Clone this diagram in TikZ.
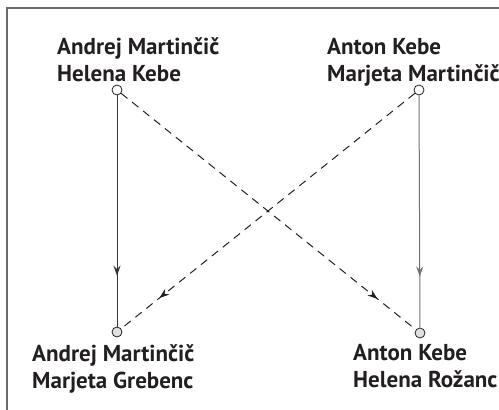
\documentclass[tikz,border=0pt]{standalone}
\usepackage{fontspec}
\setmainfont{PT Sans}
\usetikzlibrary{arrows.meta,decorations.markings}
\definecolor{frame}{HTML}{6A6A6A}
\definecolor{ink}{HTML}{231F20}
\tikzset{
  person/.style={circle,draw=ink,line width=0.8pt,minimum size=10pt,inner sep=0pt},
  nametext/.style={anchor=base west,inner sep=0pt,text=ink,font=\bfseries\fontsize{23}{27}\selectfont,align=left},
  midarrow/.style={postaction={decorate},decoration={markings,mark=at position #1 with {\arrow{Stealth[length=10pt,width=7pt]}}}},
  solidlink/.style={line width=1pt},
  dashlink/.style={line width=1pt,draw=ink,dash pattern=on 8pt off 6pt},
}
\begin{document}
\begin{tikzpicture}[x=1pt,y=-1pt]
\useasboundingbox (0,0) rectangle (499,410);
\draw[frame,line width=1.2pt] (7,410) -- (7,8) -- (499,8);
\node[person,fill=white] (tl) at (117,90) {};
\node[person,fill=white] (tr) at (419,90) {};
\node[person,fill=black!12] (bl) at (117,332) {};
\node[person,fill=black!12] (br) at (420,333) {};
\draw[solidlink,draw=ink!90,midarrow=0.78] (tl) -- (bl);
\draw[solidlink,draw=black!55,midarrow=0.78] (tr) -- (br);
\draw[dashlink,midarrow=0.87] (tl) -- (br);
\draw[dashlink,midarrow=0.87] (tr) -- (bl);
\node[nametext] (t1) at (57,81) {Andrej Martinčič\\Helena Kebe};
\node[nametext] (t2) at (327,81) {Anton Kebe\\Marjeta Martinčič};
\node[nametext] (t3) at (32,388) {Andrej Martinčič\\Marjeta Grebenc};
\node[nametext] (t4) at (353,387) {Anton Kebe\\Helena Rožanc};
\end{tikzpicture}
\end{document}
